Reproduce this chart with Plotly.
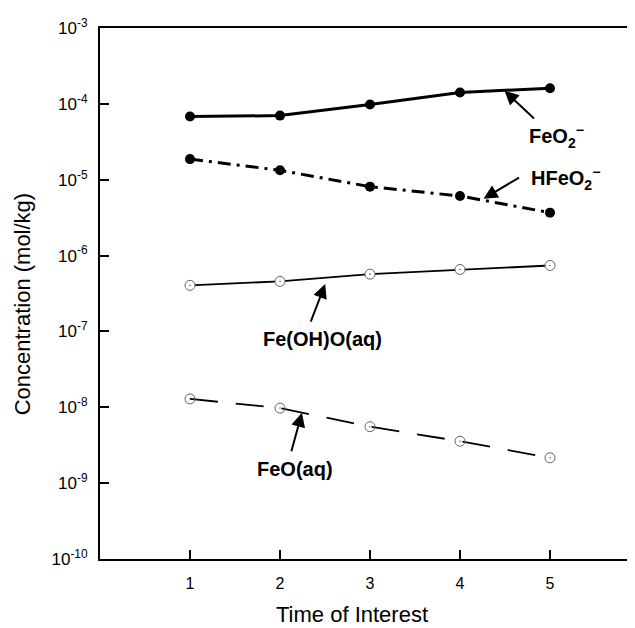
import plotly.graph_objects as go

time_points = [1, 2, 3, 4, 5]
feo2_minus = [6.8e-5, 7.0e-5, 9.8e-5, 1.41e-4, 1.61e-4]
hfeo2_minus = [1.87e-5, 1.33e-5, 8.1e-6, 6.1e-6, 3.68e-6]
feohoaq = [4.05e-7, 4.57e-7, 5.69e-7, 6.56e-7, 7.4e-7]
feoaq = [1.29e-8, 9.75e-9, 5.55e-9, 3.57e-9, 2.16e-9]

ytick_exps = [-3, -4, -5, -6, -7, -8, -9, -10]
ytick_text = ["10<sup>%d</sup>" % e for e in ytick_exps]
xtick_vals = [1, 2, 3, 4, 5]

FONT = "Liberation Sans, Arial, sans-serif"

fig = go.Figure()
fig.add_trace(go.Scatter(
    x=time_points, y=feo2_minus, mode="lines+markers",
    line=dict(color="black", width=3),
    marker=dict(symbol="circle", size=10, color="black"),
    showlegend=False))
fig.add_trace(go.Scatter(
    x=time_points, y=hfeo2_minus, mode="lines+markers",
    line=dict(color="black", width=3, dash="13px,6px,3px,6px"),
    marker=dict(symbol="circle", size=10, color="black"),
    showlegend=False))
fig.add_trace(go.Scatter(
    x=time_points, y=feohoaq, mode="lines+markers",
    line=dict(color="black", width=1.8),
    marker=dict(symbol="circle-dot", size=10, color="white",
                line=dict(color="#666666", width=1)),
    showlegend=False))
fig.add_trace(go.Scatter(
    x=time_points, y=feoaq, mode="lines+markers",
    line=dict(color="black", width=1.8, dash="28px,18px"),
    marker=dict(symbol="circle-open-dot", size=10, color="#666666",
                line=dict(width=1)),
    showlegend=False))

ann_font = dict(family=FONT, size=20, color="black")

labels = [
    ("<b>FeO<sub>2</sub><sup>−</sup></b>", 4.749, -4.43),
    ("<b>HFeO<sub>2</sub><sup>−</sup></b>", 4.768, -4.98),
    ("<b>Fe(OH)O(aq)</b>", 1.793, -7.095),
    ("<b>FeO(aq)</b>", 1.727, -8.809),
]
for txt, lx, ly in labels:
    fig.add_annotation(x=lx, y=ly, xref="x", yref="y", text=txt,
                       showarrow=False, xanchor="left", yanchor="middle",
                       font=ann_font)

arrows = [
    (4.495, -3.828, 31, 29),
    (4.262, -5.25, 37, -22),
    (2.502, -6.376, -15, 39),
    (2.244, -8.073, -11, 40),
]
for hx, hy, ax, ay in arrows:
    fig.add_annotation(x=hx, y=hy, xref="x", yref="y", text="",
                       showarrow=True, ax=ax, ay=ay, arrowhead=2,
                       arrowsize=1.4, arrowwidth=2, arrowcolor="black",
                       standoff=0, startstandoff=0)

fig.add_annotation(x=0.467, y=-0.105, xref="paper", yref="paper",
                   text="Time of Interest", showarrow=False,
                   xanchor="center", yanchor="middle", borderpad=0,
                   font=dict(family=FONT, size=22, color="black"))
fig.add_annotation(x=-0.144, y=0.48, xref="paper", yref="paper",
                   text="Concentration (mol/kg)", showarrow=False,
                   textangle=-90, xanchor="center", yanchor="middle",
                   font=dict(family=FONT, size=22, color="black"))

fig.update_xaxes(range=[0, 6], tickvals=xtick_vals,
                 ticks="inside", ticklen=9, tickwidth=1.5, tickcolor="black",
                 showline=True, linecolor="black", linewidth=2, mirror=True,
                 showgrid=False, zeroline=False, ticklabelstandoff=9,
                 tickfont=dict(family=FONT, size=16, color="black"))
fig.update_yaxes(type="log", range=[-10, -3],
                 tickvals=[10.0 ** e for e in ytick_exps], ticktext=ytick_text,
                 ticks="inside", ticklen=9, tickwidth=1.5, tickcolor="black",
                 showline=True, linecolor="black", linewidth=2, mirror="ticks",
                 showgrid=False, zeroline=False, ticklabelstandoff=7,
                 tickfont=dict(family=FONT, size=17, color="black"))

fig.update_layout(width=642, height=628,
                  margin=dict(l=92, r=8, t=16, b=77),
                  plot_bgcolor="white", paper_bgcolor="white")

fig.write_html("out.html")
